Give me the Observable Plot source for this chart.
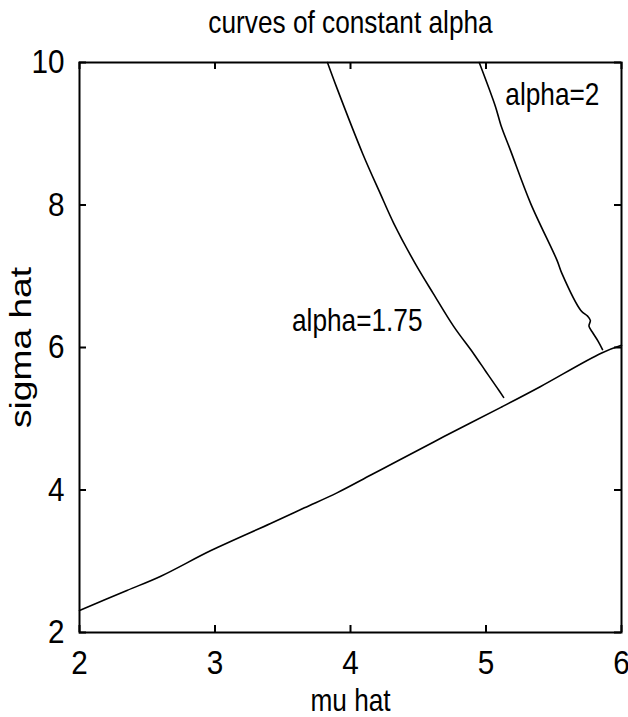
<!DOCTYPE html>
<html><head><meta charset="utf-8">
<script src="https://cdn.jsdelivr.net/npm/d3@7"></script>
<script src="https://cdn.jsdelivr.net/npm/@observablehq/plot@0.6"></script>
<style>body{margin:0;background:#fff}</style>
</head><body><div id="chart"></div>
<script>
// Lower boundary curve (mu hat, sigma hat)
const boundaryMu    = [2.00, 2.35, 2.60, 2.97, 3.41, 3.66, 3.90, 4.15, 4.34, 4.69, 5.11, 5.40, 5.85, 6.00];
const boundarySigma = [2.31, 2.59, 2.79, 3.15, 3.53, 3.75, 3.96, 4.21, 4.40, 4.75, 5.16, 5.45, 5.92, 6.03];
// alpha = 1.75 curve
const a175Mu    = [3.83, 3.90, 4.09, 4.22, 4.32, 4.48, 4.61, 4.76, 4.91, 5.00, 5.08, 5.13];
const a175Sigma = [10.0, 9.64, 8.72, 8.16, 7.74, 7.17, 6.76, 6.30, 5.91, 5.66, 5.44, 5.30];
// alpha = 2 curve
const a2Mu    = [4.95, 5.07, 5.11, 5.18, 5.33, 5.525, 5.56, 5.70, 5.75, 5.77, 5.76, 5.79, 5.83, 5.86];
const a2Sigma = [10.0, 9.38, 9.12, 8.77, 8.02, 7.22, 7.04, 6.52, 6.44, 6.38, 6.30, 6.20, 6.08, 5.97];

// annotation labels
const labelText  = ["alpha=1.75", "alpha=2"];
const labelMu    = [4.05, 5.49];
const labelSigma = [6.38, 9.55];

const xTicks = [2, 3, 4, 5, 6];
const yTicks = [2, 4, 6, 8, 10];

const titleText = "curves of constant alpha";
const xLabel = "mu hat";
const yLabel = "sigma hat";

const series = [
  {name: "boundary", mu: boundaryMu, sigma: boundarySigma},
  {name: "alpha=1.75", mu: a175Mu, sigma: a175Sigma},
  {name: "alpha=2", mu: a2Mu, sigma: a2Sigma}
];
const rows = series.flatMap(s => s.mu.map((m, i) => ({curve: s.name, mu: m, sigma: s.sigma[i]})));
const labels = labelText.map((t, i) => ({text: t, mu: labelMu[i], sigma: labelSigma[i]}));

const W = 628, H = 717, mL = 79, mR = 7, mT = 62, mB = 85, TICK = 7;
const frameW = W - mL - mR, frameH = H - mT - mB;

const font = "'Liberation Sans',Arial,sans-serif";
const intFmt = d => String(d);

const chart = Plot.plot({
  width: W, height: H,
  marginLeft: mL, marginRight: mR, marginTop: mT, marginBottom: mB,
  style: {fontFamily: font, fontSize: "32px", color: "black", background: "white"},
  x: {domain: [2, 6]},
  y: {domain: [2, 10]},
  marks: [
    Plot.line(rows, {x: "mu", y: "sigma", z: "curve", stroke: "black", strokeWidth: 1.6, curve: "catmull-rom"}),
    Plot.axisX(xTicks, {anchor: "bottom", tickSize: 0, tickPadding: 18, fontSize: 33, tickFormat: intFmt, label: null}),
    Plot.axisY(yTicks, {anchor: "left", tickSize: 0, tickPadding: 15, fontSize: 33, tickFormat: intFmt, label: null}),
    // inward tick marks on all four sides
    Plot.tickX(xTicks, {x: d => d, insetTop: frameH - TICK, stroke: "black", strokeWidth: 2}),
    Plot.tickX(xTicks, {x: d => d, insetBottom: frameH - TICK, stroke: "black", strokeWidth: 2}),
    Plot.tickY(yTicks, {y: d => d, insetRight: frameW - TICK, stroke: "black", strokeWidth: 2}),
    Plot.tickY(yTicks, {y: d => d, insetLeft: frameW - TICK, stroke: "black", strokeWidth: 2}),
    Plot.frame({stroke: "black", strokeWidth: 2}),
    Plot.text(labels, {x: "mu", y: "sigma", text: "text", fontSize: 32, fill: "black"}),
    Plot.text([titleText], {frameAnchor: "top", dy: -52, fontSize: 32, fill: "black"}),
    Plot.text([xLabel], {frameAnchor: "bottom", dy: 78, fontSize: 32, fill: "black"}),
    Plot.text([yLabel], {frameAnchor: "left", textAnchor: "middle", dx: -58, rotate: -90, fontSize: 30, fill: "black"})
  ]
});

// Narrow the glyphs horizontally (the reference uses a condensed face)
d3.select(chart).selectAll("text").each(function () {
  const t = this.getAttribute("transform");
  if (!t) return;
  const txt = this.textContent;
  let s = "scale(0.82,1)";
  if (txt === yLabel) s = "scale(1.24,1)";
  else if (xTicks.map(String).includes(txt) || yTicks.map(String).includes(txt)) s = "scale(0.9,1)";
  this.setAttribute("transform", t + " " + s);
});
document.getElementById("chart").appendChild(chart);
</script>
</body></html>
